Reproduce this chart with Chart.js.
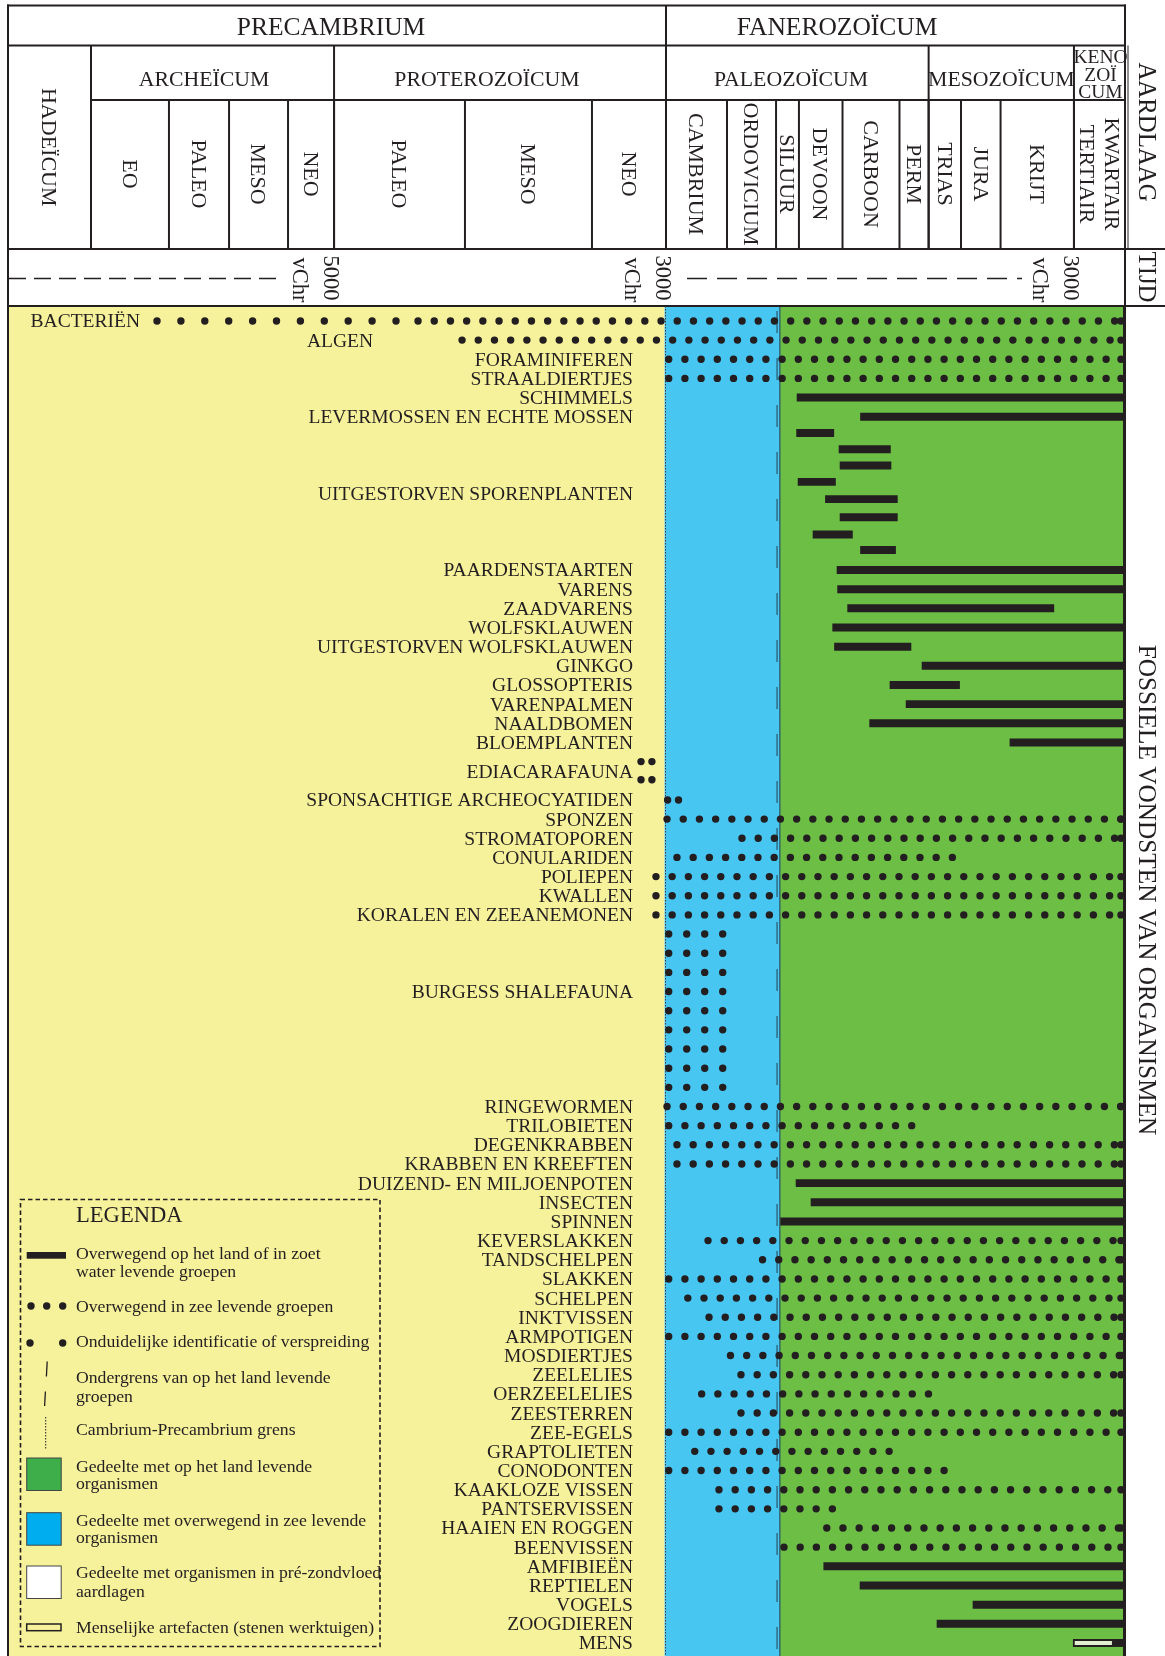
<!DOCTYPE html>
<html>
<head>
<meta charset="utf-8">
<script src="https://cdn.jsdelivr.net/npm/chart.js@4.4.1/dist/chart.umd.min.js"></script>
<style>
html,body{margin:0;padding:0;background:#fff;}
#wrap{position:relative;width:1165px;height:1656px;}
</style>
</head>
<body>
<div id="wrap"><canvas id="c"></canvas></div>
<script>
// ===================== DATA (x in per-mille of the strata column, y in row units) =====================
const eonNames   = ['PRECAMBRIUM', 'FANEROZOÏCUM'];
const eonEdges   = [0, 589.1, 1000];
const eraNames   = ['HADEÏCUM', 'ARCHEÏCUM', 'PROTEROZOÏCUM', 'PALEOZOÏCUM', 'MESOZOÏCUM', 'KENOZOÏCUM'];
const eraEdges   = [0, 74.3, 291.9, 589.1, 824.2, 954.3, 1000];
const periodNames = ['EO', 'PALEO', 'MESO', 'NEO', 'PALEO', 'MESO', 'NEO', 'CAMBRIUM', 'ORDOVICIUM', 'SILUUR',
                     'DEVOON', 'CARBOON', 'PERM', 'TRIAS', 'JURA', 'KRIJT', 'TERTIAIR', 'KWARTAIR'];
const periodEdges = [74.3, 144.1, 197.9, 250.7, 291.9, 409.1, 522.8, 589.1, 643.7, 687.6, 708.1,
                     747.1, 798.1, 824.2, 853.2, 888.6, 954.3, 977.6, 1000];
const timeMarkAt   = [291.9, 589.1, 954.3];
const timeMarkYear = ['5000', '3000', '3000'];
const timeUnit     = 'vChr';

const zoneNames = ['pré-zondvloed', 'zee', 'land'];
const zoneEdges = [0, 587.8, 691.0, 1000];
const cambrianBoundary = 587.8;
const landLowerBound   = 689.4;

const rowLabels = ['BACTERIËN', 'ALGEN', 'FORAMINIFEREN', 'STRAALDIERTJES', 'SCHIMMELS', 'LEVERMOSSEN EN ECHTE MOSSEN',
  'UITGESTORVEN SPORENPLANTEN', 'PAARDENSTAARTEN', 'VARENS', 'ZAADVARENS', 'WOLFSKLAUWEN', 'UITGESTORVEN WOLFSKLAUWEN',
  'GINKGO', 'GLOSSOPTERIS', 'VARENPALMEN', 'NAALDBOMEN', 'BLOEMPLANTEN', 'EDIACARAFAUNA', 'SPONSACHTIGE ARCHEOCYATIDEN',
  'SPONZEN', 'STROMATOPOREN', 'CONULARIDEN', 'POLIEPEN', 'KWALLEN', 'KORALEN EN ZEEANEMONEN', 'BURGESS SHALEFAUNA',
  'RINGEWORMEN', 'TRILOBIETEN', 'DEGENKRABBEN', 'KRABBEN EN KREEFTEN', 'DUIZEND- EN MILJOENPOTEN', 'INSECTEN', 'SPINNEN',
  'KEVERSLAKKEN', 'TANDSCHELPEN', 'SLAKKEN', 'SCHELPEN', 'INKTVISSEN', 'ARMPOTIGEN', 'MOSDIERTJES', 'ZEELELIES',
  'OERZEELELIES', 'ZEESTERREN', 'ZEE-EGELS', 'GRAPTOLIETEN', 'CONODONTEN', 'KAAKLOZE VISSEN', 'PANTSERVISSEN',
  'HAAIEN EN ROGGEN', 'BEENVISSEN', 'AMFIBIEËN', 'REPTIELEN', 'VOGELS', 'ZOOGDIEREN', 'MENS'];
const rowLabelPos = [0, 1, 2, 3, 4, 5, 9, 13, 14, 15, 16, 17, 18, 19, 20, 21, 22, 23.5, 25, 26, 27, 28, 29, 30, 31, 35,
  41, 42, 43, 44, 45, 46, 47, 48, 49, 50, 51, 52, 53, 54, 55, 56, 57, 58, 59, 60, 61, 62, 63, 64, 65, 66, 67, 68, 69];

// land / fresh-water groups (solid bars)
const landRow  = [4, 5, 5.85, 6.7, 7.55, 8.4, 9.3, 10.25, 11.15, 11.95, 13, 14, 15, 16, 17, 18, 19, 20, 21, 22,
                  45, 46, 47, 65, 66, 67, 68, 69];
const landFrom = [706.4, 763.2, 706.0, 744.0, 744.9, 707.3, 731.8, 744.9, 720.7, 763.2, 742.2, 742.7, 751.7, 738.3,
                  739.9, 818.3, 789.6, 804.0, 771.4, 897.0, 705.5, 718.9, 691.7, 730.3, 762.8, 863.9, 831.7, 989.8];
const landTo   = [1000, 1000, 739.3, 790.0, 790.5, 740.8, 796.2, 796.2, 756.0, 794.6, 1000, 1000, 936.3, 1000,
                  808.4, 1000, 851.9, 1000, 1000, 1000, 1000, 1000, 1000, 1000, 1000, 1000, 1000, 1000];

// marine groups (dotted ranges)
const seaRow  = [0, 1, 2, 3, 26, 27, 28, 29, 30, 31, 41, 42, 43, 44, 48, 49, 50, 51, 52, 53, 54, 55, 56, 57, 58,
                 59, 60, 61, 62, 63, 64];
const seaFrom = [367.1, 406.5, 591.5, 591.5, 590.0, 657.1, 598.9, 580.1, 580.1, 580.1, 590.0, 591.5, 598.9, 598.9,
                 626.7, 675.5, 591.5, 608.6, 627.6, 591.5, 646.8, 656.2, 621.0, 656.2, 591.5, 614.8, 591.5, 636.5,
                 636.5, 733.0, 694.7];
const seaTo   = [996.4, 996.4, 996.4, 996.4, 996.4, 996.4, 850.5, 996.4, 996.4, 996.4, 996.4, 823.3, 996.4, 996.4,
                 996.4, 996.4, 996.4, 996.4, 996.4, 996.4, 996.4, 996.4, 824.5, 996.4, 996.4, 789.1, 849.2, 996.4,
                 743.3, 996.4, 996.4];

// Burgess Shale fauna (dotted block)
const burgessRow  = [32, 33, 34, 35, 36, 37, 38, 39, 40];
const burgessFrom = [591.5, 591.5, 591.5, 591.5, 591.5, 591.5, 591.5, 591.5, 591.5];
const burgessTo   = [640.2, 640.2, 640.2, 640.2, 640.2, 640.2, 640.2, 640.2, 640.2];

// uncertain identification / distribution
const uncertainRow  = [0, 23.0, 23.95, 25];
const uncertainFrom = [133.4, 566.7, 566.7, 590.5];
const uncertainTo   = [348.0, 577.0, 577.0, 600.6];

// human artefacts
const artefactRow  = [69];
const artefactFrom = [953.5];
const artefactTo   = [989.8];

// ===================== STYLE / LAYOUT =====================
const FONT = '"Liberation Serif", "DejaVu Serif", serif';
const INK = '#231F20';
const ZONE_COLORS = ['#F6F19B', '#47C6F2', '#6DBE45'];
const H = { top: 5.5, r1: 45.5, r2: 100, r3: 249, colRight: 1165 };
const eonCenter = { 'PRECAMBRIUM': 289.2, 'FANEROZOÏCUM': 742.2 };
const eraCenter = { 'ARCHEÏCUM': 175.5, 'PROTEROZOÏCUM': 428.8, 'PALEOZOÏCUM': 701.0 };
const eraWrap = { 'KENOZOÏCUM': ['KENO', 'ZOÏ', 'CUM'] };
const noDividerAfter = new Set(['TERTIAIR']);
const labelRight = 559.5;
const labelRightOverride = { 'BACTERIËN': 118.2, 'ALGEN': 326.8 };
const timeDashSpans = [[0.9, 245.3, 17, 8], [607.9, 907.8, 20, 10]];
const DOT = 7.4;

function capText(ctx, text, x, cy, size, align) {
  ctx.font = size + 'px ' + FONT;
  ctx.textAlign = align || 'center';
  ctx.textBaseline = 'alphabetic';
  ctx.fillText(text, x, cy + size * 0.331);
}
function vCapText(ctx, text, cx, cy, size) {
  ctx.save();
  ctx.translate(cx, cy);
  ctx.rotate(Math.PI / 2);
  ctx.font = size + 'px ' + FONT;
  ctx.textAlign = 'center';
  ctx.textBaseline = 'alphabetic';
  ctx.fillText(text, 0, size * 0.331);
  ctx.restore();
}

const zonePlugin = {
  id: 'zones',
  beforeDatasetsDraw(chart) {
    const { ctx, chartArea: a, scales: { x } } = chart;
    ctx.save();
    for (let i = 0; i < zoneNames.length; i++) {
      const x0 = x.getPixelForValue(zoneEdges[i]);
      const x1 = x.getPixelForValue(zoneEdges[i + 1]);
      ctx.fillStyle = ZONE_COLORS[i];
      ctx.fillRect(x0, a.top, x1 - x0, a.bottom - a.top);
    }
    ctx.strokeStyle = '#3a3a3a';
    ctx.lineWidth = 1;
    ctx.setLineDash([1.5, 1.5]);
    let cx = Math.round(x.getPixelForValue(cambrianBoundary)) + 0.5;
    ctx.beginPath(); ctx.moveTo(cx, a.top); ctx.lineTo(cx, a.bottom); ctx.stroke();
    ctx.setLineDash([]);
    ctx.strokeStyle = '#24506a';
    ctx.lineWidth = 1.2;
    cx = x.getPixelForValue(zoneEdges[2]);
    ctx.beginPath(); ctx.moveTo(cx, a.top); ctx.lineTo(cx, a.bottom); ctx.stroke();
    ctx.strokeStyle = '#2a4a5c';
    ctx.lineWidth = 1.1;
    ctx.setLineDash([22, 25]);
    cx = x.getPixelForValue(landLowerBound) - 1;
    ctx.beginPath(); ctx.moveTo(cx, a.top + 5); ctx.lineTo(cx, a.bottom); ctx.stroke();
    ctx.restore();
  }
};

const headerPlugin = {
  id: 'header',
  afterDraw(chart) {
    const { ctx, chartArea: a, scales: { x, y } } = chart;
    const X = v => x.getPixelForValue(v);
    ctx.save();
    ctx.fillStyle = INK;
    ctx.strokeStyle = INK;

    for (let i = 0; i < rowLabels.length; i++) {
      const name = rowLabels[i];
      const ax = X(labelRightOverride[name] !== undefined ? labelRightOverride[name] : labelRight);
      capText(ctx, name, ax, y.getPixelForValue(rowLabelPos[i]), 19.5, 'right');
    }

    ctx.lineWidth = 2;
    const hl = (x0, x1, yy) => { ctx.beginPath(); ctx.moveTo(x0, yy); ctx.lineTo(x1, yy); ctx.stroke(); };
    const vl = (xx, y0, y1) => { ctx.beginPath(); ctx.moveTo(xx, y0); ctx.lineTo(xx, y1); ctx.stroke(); };
    hl(a.left - 1, a.right + 1, H.top);
    hl(a.left - 1, a.right + 1, H.r1);
    hl(X(eraEdges[1]), a.right + 1, H.r2);
    hl(a.left - 1, H.colRight, H.r3);
    hl(a.left - 1, H.colRight, a.top);
    vl(a.left, H.top - 1, chart.height);
    for (let i = 1; i < eonEdges.length - 1; i++) vl(X(eonEdges[i]), H.top, H.r3);
    for (let i = 1; i < eraEdges.length - 1; i++) vl(X(eraEdges[i]), H.r1, H.r3);
    for (let i = 1; i < periodEdges.length - 1; i++) {
      if (noDividerAfter.has(periodNames[i - 1])) continue;
      vl(X(periodEdges[i]), H.r2, H.r3);
    }
    vl(a.right, H.top - 1, a.top);
    ctx.lineWidth = 1;
    vl(a.right + 3, H.r1, H.r3);
    ctx.lineWidth = 3;
    vl(a.right - 0.5, a.top, chart.height);

    for (let i = 0; i < eonNames.length; i++) {
      const c = eonCenter[eonNames[i]] !== undefined ? X(eonCenter[eonNames[i]]) : (X(eonEdges[i]) + X(eonEdges[i + 1])) / 2;
      capText(ctx, eonNames[i], c, 26.7, 25.5);
    }
    for (let i = 0; i < eraNames.length; i++) {
      const name = eraNames[i];
      let c = (X(eraEdges[i]) + X(eraEdges[i + 1])) / 2;
      if (i === 0) { vCapText(ctx, name, c, (H.r1 + H.r3) / 2, 22); continue; }
      if (eraCenter[name] !== undefined) c = X(eraCenter[name]);
      if (eraWrap[name]) {
        eraWrap[name].forEach((p, k) => capText(ctx, p, c + 1, 56.8 + k * 17.6, 19.5));
      } else {
        capText(ctx, name, c, 79, 21.8);
      }
    }
    for (let i = 0; i < periodNames.length; i++) {
      const c = (X(periodEdges[i]) + X(periodEdges[i + 1])) / 2;
      vCapText(ctx, periodNames[i], c, 174, 22);
    }

    for (let i = 0; i < timeMarkAt.length; i++) {
      const bx = X(timeMarkAt[i]);
      vCapText(ctx, timeMarkYear[i], bx - 3, 278, 22.5);
      vCapText(ctx, timeUnit, bx - 34, 280, 22.5);
    }
    ctx.lineWidth = 1.6;
    timeDashSpans.forEach(s => {
      ctx.setLineDash([s[2], s[3]]);
      hl(X(s[0]), X(s[1]), 278.5);
    });
    ctx.setLineDash([]);

    const rc = (a.right + H.colRight) / 2 + 2;
    vCapText(ctx, 'AARDLAAG', rc, 132, 24.8);
    vCapText(ctx, 'TIJD', rc, 277, 24.8);
    vCapText(ctx, 'FOSSIELE VONDSTEN VAN ORGANISMEN', rc, 890, 25.3);

    drawLegend(ctx);
    ctx.restore();
  }
};

function drawLegend(ctx) {
  ctx.save();
  ctx.strokeStyle = INK;
  ctx.fillStyle = INK;
  ctx.lineWidth = 1.6;
  ctx.setLineDash([4.5, 3]);
  ctx.strokeRect(20.5, 1199.5, 359.5, 447);
  ctx.setLineDash([]);
  ctx.textAlign = 'left';
  ctx.textBaseline = 'alphabetic';
  ctx.font = '22.6px ' + FONT;
  ctx.fillText('LEGENDA', 76, 1222);
  ctx.font = '17.7px ' + FONT;
  const t = (s, yy) => ctx.fillText(s, 76, yy);
  const dot = (cx, cy) => { ctx.beginPath(); ctx.arc(cx, cy, DOT / 2, 0, Math.PI * 2); ctx.fill(); };
  ctx.fillRect(26.7, 1252, 39.3, 6.7);
  t('Overwegend op het land of in zoet', 1259);
  t('water levende groepen', 1276.5);
  dot(31, 1306); dot(46.7, 1306); dot(62.7, 1306);
  t('Overwegend in zee levende groepen', 1311.5);
  dot(30, 1343); dot(62.7, 1343);
  t('Onduidelijke identificatie of verspreiding', 1346.5);
  ctx.lineWidth = 1.3;
  ctx.beginPath(); ctx.moveTo(47.2, 1361.5); ctx.lineTo(46.4, 1376.5); ctx.stroke();
  ctx.beginPath(); ctx.moveTo(45.4, 1391.5); ctx.lineTo(44.6, 1406); ctx.stroke();
  t('Ondergrens van op het land levende', 1383);
  t('groepen', 1401.5);
  ctx.lineWidth = 1;
  ctx.setLineDash([1.5, 1.5]);
  ctx.beginPath(); ctx.moveTo(45.7, 1417); ctx.lineTo(45.7, 1450); ctx.stroke();
  ctx.setLineDash([]);
  t('Cambrium-Precambrium grens', 1435);
  const box = (yy, col) => {
    ctx.fillStyle = col; ctx.fillRect(26.7, yy, 34.5, 32.5);
    ctx.strokeStyle = '#444'; ctx.lineWidth = 1; ctx.strokeRect(26.7, yy, 34.5, 32.5);
    ctx.fillStyle = INK; ctx.strokeStyle = INK;
  };
  box(1458, '#3DAE4A');
  t('Gedeelte met op het land levende', 1471.5);
  t('organismen', 1489);
  box(1512.7, '#00AEEF');
  t('Gedeelte met overwegend in zee levende', 1526);
  t('organismen', 1543.3);
  box(1566, '#FFFFFF');
  t('Gedeelte met organismen in pré-zondvloed', 1578.3);
  t('aardlagen', 1596.7);
  ctx.fillStyle = '#F6F19B';
  ctx.fillRect(26.7, 1624, 34.3, 6.7);
  ctx.lineWidth = 1.5;
  ctx.strokeRect(26.7, 1624, 34.3, 6.7);
  ctx.fillStyle = INK;
  t('Menselijke artefacten (stenen werktuigen)', 1633.3);
  ctx.restore();
}

// ===================== DATASETS =====================
const datasets = [];
datasets.push({
  type: 'bar', indexAxis: 'y', label: 'land',
  data: landRow.map((r, i) => ({ x: [landFrom[i], landTo[i]], y: r })),
  backgroundColor: INK, borderWidth: 0, barThickness: 7.3, grouped: false, order: 1
});
datasets.push({
  type: 'bar', indexAxis: 'y', label: 'artefact',
  data: artefactRow.map((r, i) => ({ x: [artefactFrom[i], artefactTo[i]], y: r })),
  backgroundColor: '#E2F0CF', borderColor: INK, borderWidth: 2, borderSkipped: false,
  barThickness: 7.5, grouped: false, order: 1
});
function dotted(rows, from, to, gap, label) {
  rows.forEach((r, i) => datasets.push({
    type: 'line', label: label,
    data: [{ x: from[i], y: r }, { x: to[i], y: r }],
    borderColor: INK, borderWidth: DOT, borderDash: [0.01, gap], borderCapStyle: 'round',
    pointRadius: c => (c.dataIndex === 1 && c.raw.x >= 996) ? DOT / 2 : 0,
    pointBorderWidth: 0, pointBackgroundColor: INK,
    fill: false, tension: 0, order: 0
  }));
}
dotted(seaRow, seaFrom, seaTo, 16.19, 'zee');
dotted(burgessRow, burgessFrom, burgessTo, 17.99, 'burgess');
dotted(uncertainRow.slice(0, 1), uncertainFrom.slice(0, 1), uncertainTo.slice(0, 1), 23.89, 'onduidelijk');
dotted(uncertainRow.slice(1), uncertainFrom.slice(1), uncertainTo.slice(1), 10.9, 'onduidelijk');

new Chart(document.getElementById('c'), {
  type: 'line',
  data: { datasets },
  options: {
    responsive: true, maintainAspectRatio: false, animation: false, devicePixelRatio: 1,
    events: [],
    layout: { autoPadding: false, padding: { top: 306, left: 8, right: 40, bottom: 0 } },
    scales: {
      x: { type: 'linear', min: 0, max: 1000, offset: false, display: false },
      y: { type: 'linear', min: -0.78, max: 69.68, reverse: true, offset: false, display: false }
    },
    plugins: { legend: { display: false }, tooltip: { enabled: false } }
  },
  plugins: [zonePlugin, headerPlugin]
});
</script>
</body>
</html>
